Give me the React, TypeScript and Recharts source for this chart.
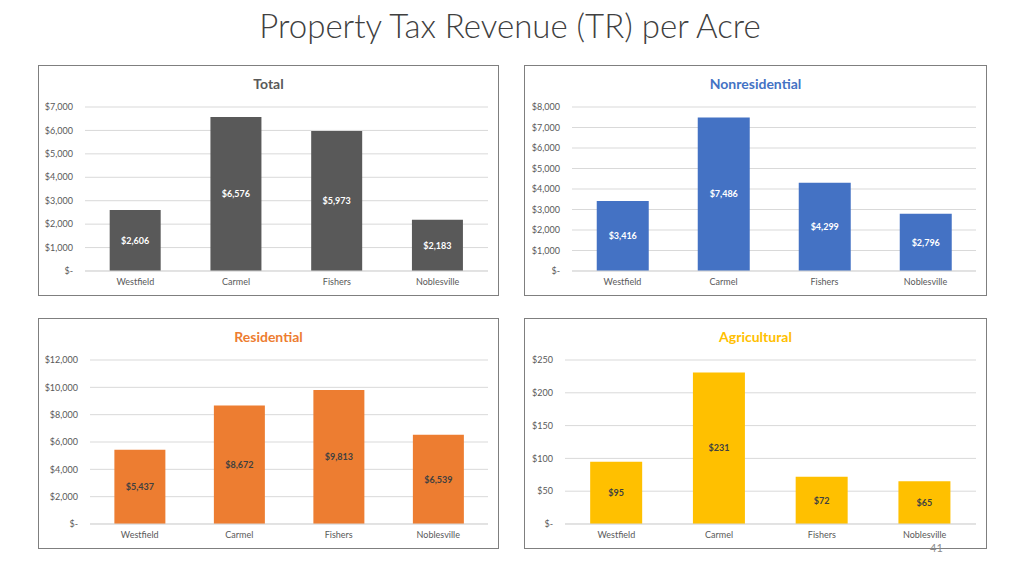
import React from "react";
import { BarChart, Bar, XAxis, YAxis, CartesianGrid, LabelList } from "recharts";

const cities = ["Westfield", "Carmel", "Fishers", "Noblesville"];
const totalValues = [2606, 6576, 5973, 2183];
const nonresidentialValues = [3416, 7486, 4299, 2796];
const residentialValues = [5437, 8672, 9813, 6539];
const agriculturalValues = [95, 231, 72, 65];

const totalTicks = [0, 1000, 2000, 3000, 4000, 5000, 6000, 7000];
const nonresidentialTicks = [0, 1000, 2000, 3000, 4000, 5000, 6000, 7000, 8000];
const residentialTicks = [0, 2000, 4000, 6000, 8000, 10000, 12000];
const agriculturalTicks = [0, 50, 100, 150, 200, 250];

const FONT = "Lato, 'Open Sans', sans-serif";

const money = (v: number) => (v === 0 ? "$-" : "$" + v.toLocaleString("en-US"));

type PanelProps = {
  title: string;
  color: string;
  labelColor: string;
  values: number[];
  ticks: number[];
  left: number;
  top: number;
  width: number;
  axisWidth: number;
};

const Panel = ({ title, color, labelColor, values, ticks, left, top, width, axisWidth }: PanelProps) => {
  const data = cities.map((city, i) => ({ city, value: values[i] }));
  const h = 231;
  return (
    <div
      style={{
        position: "absolute",
        left,
        top,
        width,
        height: h,
        border: "1px solid #7f7f7f",
        boxSizing: "border-box",
        background: "#fff",
      }}
    >
      <div
        style={{
          position: "absolute",
          top: 9,
          left: 0,
          width: "100%",
          textAlign: "center",
          fontFamily: FONT,
          fontWeight: 700,
          fontSize: 14,
          color,
        }}
      >
        {title}
      </div>
      <BarChart
        width={width - 2}
        height={h - 2}
        data={data}
        margin={{ top: 41, right: 10, bottom: 4, left: 0 }}
        barCategoryGap="24.5%"
      >
        <CartesianGrid vertical={false} stroke="#d9d9d9" />
        <XAxis
          dataKey="city"
          axisLine={{ stroke: "#d9d9d9" }}
          tickLine={false}
          height={20}
          tick={{ fontSize: 9, fill: "#595959", fontFamily: FONT }}
        />
        <YAxis
          width={axisWidth}
          domain={[ticks[0], ticks[ticks.length - 1]]}
          ticks={ticks}
          tickFormatter={money}
          axisLine={false}
          tickLine={false}
          interval={0}
          tick={{ fontSize: 9, fill: "#595959", fontFamily: FONT, dx: -4 }}
        />
        <Bar dataKey="value" fill={color} isAnimationActive={false}>
          <LabelList
            dataKey="value"
            position="center"
            formatter={(v: any) => money(Number(v))}
            style={{ fontSize: 9, fontWeight: 700, fill: labelColor, fontFamily: FONT }}
          />
        </Bar>
      </BarChart>
    </div>
  );
};

export default function App() {
  return (
    <div
      style={{
        position: "absolute",
        left: 0,
        top: 0,
        width: 1024,
        height: 576,
        background: "#fff",
        fontFamily: FONT,
      }}
    >
      <div
        style={{
          position: "absolute",
          top: 5,
          left: 0,
          width: 1020,
          textAlign: "center",
          fontSize: 33,
          fontWeight: 300,
          color: "#404040",
        }}
      >
        Property Tax Revenue (TR) per Acre
      </div>
      <Panel title="Total" color="#595959" labelColor="#ffffff" values={totalValues} ticks={totalTicks} left={38} top={65} width={461} axisWidth={46} />
      <Panel title="Nonresidential" color="#4472c4" labelColor="#ffffff" values={nonresidentialValues} ticks={nonresidentialTicks} left={524} top={65} width={463} axisWidth={47} />
      <Panel title="Residential" color="#ed7d31" labelColor="#404040" values={residentialValues} ticks={residentialTicks} left={38} top={318} width={461} axisWidth={51} />
      <Panel title="Agricultural" color="#ffc000" labelColor="#404040" values={agriculturalValues} ticks={agriculturalTicks} left={524} top={318} width={463} axisWidth={40} />
      <div style={{ position: "absolute", left: 930, top: 541, fontSize: 11, color: "#8c8c8c" }}>41</div>
    </div>
  );
}
